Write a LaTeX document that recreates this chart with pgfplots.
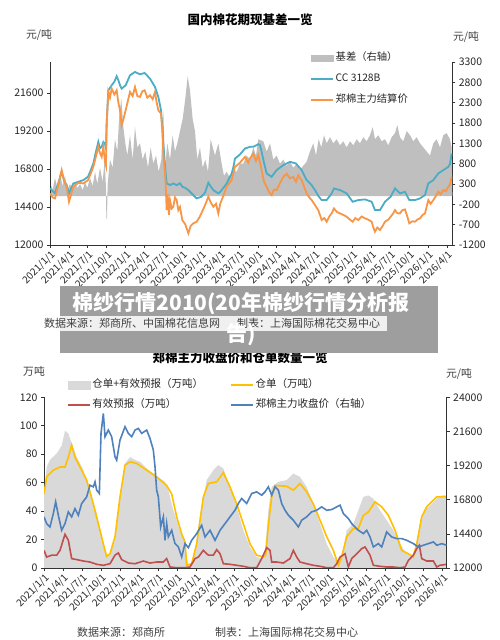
\documentclass[border=0pt]{standalone}
\usepackage{pgfplots}
\pgfplotsset{compat=1.18}
\usepackage{fontspec}
\setmainfont{Noto Sans CJK SC}
\definecolor{basis}{HTML}{BFBFBF}
\definecolor{cc}{HTML}{4BACC6}
\definecolor{zce}{HTML}{F79646}
\definecolor{warea}{HTML}{D9D9D9}
\definecolor{wyel}{HTML}{FFC000}
\definecolor{wred}{HTML}{C0504D}
\definecolor{wblue}{HTML}{4F81BD}
\definecolor{txt}{HTML}{404040}
\definecolor{banner}{HTML}{9E9E9E}
\newcommand{\fs}[1]{\fontsize{#1}{#1}\selectfont}
\pgfplotsset{
  base/.style={scale only axis, tick align=outside, major tick length=3pt, scaled ticks=false,
    axis line style={black!80, line width=0.6pt}, tick style={black!80, line width=0.6pt},
    ticklabel style={font=\fs{10.5}, text=black!85}},
  xlab/.style={x tick label style={rotate=45, anchor=north east, font=\fs{10}, inner sep=1pt}},
}
\begin{document}
\begin{tikzpicture}[x=1pt,y=1pt]
\path[use as bounding box] (0,0) rectangle (500,640);

% ===== TOP CHART: right axis (basis) =====
\begin{axis}[base, at={(50pt,395pt)}, anchor=south west, width=402.3pt, height=183pt,
  xmin=150, xmax=1357, ymin=-1200, ymax=3300,
  axis y line*=right, axis x line=none,
  ytick={-1200,-700,-200,300,800,1300,1800,2300,2800,3300},
  yticklabels={-1200,-700,-200,300,800,1300,1800,2300,2800,3300}]
\addplot[fill=basis, draw=none] coordinates {
(150,0)(152,300)(158,150)(165,450)(172,200)(180,550)(188,250)(195,500)(202,150)(210,300)
(218,150)(225,350)(232,200)(240,300)(248,150)(255,350)(262,200)(270,450)(278,250)(285,600)
(292,300)(300,700)(308,350)(314,900)(318,200)(319,-550)(321,-550)(323,300)(330,900)(338,700)
(345,1400)(352,1100)(358,2000)(364,2400)(370,1700)(376,1300)(382,1000)(390,1500)(398,900)
(405,1700)(412,1200)(420,1300)(428,900)(436,1100)(444,700)(452,1200)(460,800)(468,1000)
(476,600)(484,900)(490,2100)(495,700)(502,1300)(510,900)(518,1500)(525,1100)(532,1300)
(540,1600)(548,1900)(556,2400)(563,2950)(570,2600)(578,1900)(585,1600)(592,900)(600,1200)
(608,700)(616,900)(624,600)(632,1400)(645,1000)(655,1300)(665,800)(672,500)(680,600)
(690,450)(700,650)(710,600)(720,800)(730,800)(740,1000)(750,900)(760,1200)(768,1000)
(775,1400)(790,1350)(800,1100)(810,1300)(820,900)(830,1000)(840,800)(850,900)(860,750)
(870,850)(880,700)(890,800)(900,650)(910,750)(920,850)(930,1100)(940,1300)(948,1000)
(956,1400)(964,1200)(972,1500)(980,1300)(990,1450)(1000,1300)(1010,1400)(1020,1250)
(1030,1350)(1040,1200)(1050,1350)(1060,1250)(1070,1400)(1080,1300)(1090,1450)(1100,1350)
(1110,1500)(1118,1700)(1125,1400)(1135,1500)(1145,1350)(1155,1400)(1165,1250)(1175,1450)
(1185,1550)(1192,1750)(1200,1450)(1210,1350)(1220,1600)(1230,1500)(1240,1350)(1250,1450)
(1260,1300)(1270,1200)(1280,1100)(1290,1000)(1300,1300)(1310,1400)(1320,1200)(1330,1500)
(1340,1550)(1350,1400)(1355,1200)(1357,0)} -- cycle;
\end{axis}

% ===== TOP CHART: left axis (prices) =====
\begin{axis}[base, xlab, at={(50pt,395pt)}, anchor=south west, width=402.3pt, height=183pt,
  xmin=150, xmax=1357, ymin=12000, ymax=23550,
  axis y line*=left, axis x line*=bottom,
  xtick={150,206.7,263.4,320.1,376.8,433.5,490.2,546.9,603.6,660.3,717,773.7,830.4,887.1,943.8,1000.5,1057.2,1113.9,1170.6,1227.3,1284,1340.7},
  xticklabels={2021/1/1,2021/4/1,2021/7/1,2021/10/1,2022/1/1,2022/4/1,2022/7/1,2022/10/1,2023/1/1,2023/4/1,2023/7/1,2023/10/1,2024/1/1,2024/4/1,2024/7/1,2024/10/1,2025/1/1,2025/4/1,2025/7/1,2025/10/1,2026/1/1,2026/4/1},
  ytick={12000,14400,16800,19200,21600}, yticklabels={12000,14400,16800,19200,21600},
  legend style={at={(axis description cs:0.6468,1.06)}, anchor=north west, draw=none, fill=none,
    inner sep=0pt, row sep=8pt, font=\fs{10.3}, text=black!85,
    nodes={inner sep=1.5pt, text height=8pt, text depth=2pt}},
  legend cell align=left,
  legend image code/.code={\draw[#1] (0pt,0pt) -- (22pt,0pt);}]
\addlegendimage{legend image code/.code={\fill[basis] (0pt,-3pt) rectangle (22pt,3pt);}}
\addlegendentry{基差（右轴）}
\addplot[cc, line width=1.8pt] coordinates {
(150,15570)(158,15400)(165,15255)(175,15900)(185,16620)(193,16000)(200,15780)(207,15255)
(220,15885)(235,15990)(250,16095)(264,16305)(272,16700)(280,17145)(288,17900)(295,18510)
(300,18100)(305,18195)(310,18500)(315,18405)(318,18000)(320,19665)(325,21765)(335,22080)
(343,22300)(350,22647)(355,22400)(360,22080)(365,21870)(377,22080)(390,22710)(405,22920)
(420,22773)(434,22857)(450,22500)(465,21975)(475,21345)(483,20505)(487,19500)(490,18405)
(494,17300)(497,16515)(500,15885)(510,15780)(520,15885)(530,15780)(540,15900)(547,15675)
(556,15600)(565,15465)(580,15150)(590,14940)(604,15045)(615,15300)(625,15927)(632,15700)
(640,15465)(655,15255)(661,15360)(670,15600)(680,15885)(695,16515)(700,16900)(705,17460)
(718,17670)(735,18090)(750,18195)(760,18195)(775,18363)(780,18300)(785,17880)(792,17200)
(800,16515)(815,16305)(830,16725)(850,17040)(870,17250)(888,17145)(905,16725)(920,16095)
(935,15780)(945,15465)(955,15100)(965,14835)(980,14835)(995,15255)(1002,15570)(1020,15465)
(1040,15255)(1058,14730)(1075,14835)(1095,14877)(1115,14730)(1125,14205)(1140,14205)
(1155,14730)(1172,15045)(1185,15570)(1200,15255)(1215,15360)(1228,14835)(1245,14835)
(1260,14940)(1275,15150)(1285,15885)(1300,16095)(1315,16515)(1330,16725)(1345,16935)
(1350,17100)(1355,17775)};
\addlegendentry{CC 3128B}
\addplot[zce, line width=1.8pt] coordinates {
(150,15255)(158,15000)(165,14940)(175,15800)(185,16725)(193,16000)(200,15675)(207,14730)
(220,15675)(235,15927)(250,15885)(264,16095)(272,16500)(280,16935)(288,17600)(295,18195)
(300,17800)(305,17565)(310,18200)(315,17250)(318,17000)(320,19665)(325,21660)(330,21300)
(335,21870)(343,21500)(350,21765)(355,21000)(360,20505)(365,19560)(371,20000)(377,20505)
(390,21660)(398,21400)(405,21975)(412,21400)(420,21345)(427,21700)(434,21765)(442,21300)
(450,21450)(458,21200)(465,21660)(470,21000)(475,20505)(483,20295)(487,19200)(490,17775)
(494,16800)(497,15885)(500,14205)(503,15200)(507,13900)(510,14835)(515,14300)(520,14415)
(525,15000)(530,14835)(535,14200)(540,14400)(547,13575)(556,13300)(565,12735)(572,13200)
(580,13365)(590,13470)(597,13700)(604,13995)(615,14500)(625,15045)(632,14700)(640,14415)
(648,14600)(655,13995)(661,14625)(670,15100)(680,15675)(688,15900)(695,16095)(705,16935)
(718,17145)(735,17565)(745,17200)(750,17460)(760,17775)(768,17300)(775,17670)(785,16725)
(792,16000)(800,15675)(808,15300)(815,15150)(822,15500)(830,15465)(840,15900)(850,16305)
(860,16500)(870,16200)(880,16300)(888,15990)(895,16400)(905,16095)(912,15700)(920,15255)
(928,15000)(935,14835)(945,14520)(955,14200)(965,13575)(973,13700)(980,13470)(988,13800)
(995,13995)(1002,14310)(1010,14100)(1020,13995)(1030,13900)(1040,13785)(1050,13600)
(1058,13470)(1066,13700)(1075,13575)(1085,13800)(1095,13680)(1105,13600)(1115,13470)
(1120,13100)(1125,12840)(1132,13100)(1140,12945)(1148,13200)(1155,13470)(1165,13600)
(1172,13785)(1180,14000)(1185,14205)(1192,14000)(1200,13995)(1207,14200)(1215,14247)
(1222,13800)(1228,13365)(1237,13500)(1245,13470)(1252,13600)(1260,13680)(1268,13900)
(1275,13995)(1280,14400)(1285,14835)(1292,14600)(1300,14835)(1308,15100)(1315,15360)
(1322,15200)(1330,15465)(1338,15400)(1345,15675)(1350,15800)(1355,16305)};
\addlegendentry{郑棉主力结算价}
\end{axis}

% ===== BOTTOM CHART: left axis (warehouse receipts) =====
\begin{axis}[base, xlab, at={(44pt,72pt)}, anchor=south west, width=402.7pt, height=170.7pt,
  xmin=132, xmax=1340, ymin=0, ymax=120,
  axis y line*=left, axis x line*=bottom,
  xtick={132,188.95,245.9,302.85,359.8,416.75,473.7,530.65,587.6,644.55,701.5,758.45,815.4,872.35,929.3,986.25,1043.2,1100.15,1157.1,1214.05,1271,1327.95},
  xticklabels={2021/1/1,2021/4/1,2021/7/1,2021/10/1,2022/1/1,2022/4/1,2022/7/1,2022/10/1,2023/1/1,2023/4/1,2023/7/1,2023/10/1,2024/1/1,2024/4/1,2024/7/1,2024/10/1,2025/1/1,2025/4/1,2025/7/1,2025/10/1,2026/1/1,2026/4/1},
  ytick={0,20,40,60,80,100,120}, yticklabels={0,20,40,60,80,100,120}]
\addplot[fill=warea, draw=none] coordinates {
(132,0)(132,50)(140,71)(150,76)(170,80.5)(185,86)(195,96.5)(205,94.6)(215,87.6)(230,78)
(250,69)(270,55)(290,38)(305,22)(315,12.4)(320,9)(330,10)(345,19.5)(360,50)(375,73.5)
(390,78)(405,76)(420,74.7)(440,70)(460,66.4)(480,63)(495,60.6)(505,54.7)(520,40.6)
(540,26.5)(555,19.5)(560,7.7)(565,1.9)(575,3)(585,12.4)(600,36)(620,61.8)(640,68.8)
(655,72.3)(670,70)(690,57)(710,43)(730,26.5)(750,14.8)(770,7.7)(785,6.6)(795,12.4)
(805,40.6)(815,57)(835,60.6)(860,61.8)(880,66.4)(900,64)(920,57)(940,45)(960,31)(980,17)
(1000,7.7)(1015,3)(1025,7.7)(1040,26.5)(1060,31)(1075,40.6)(1090,50)(1105,51)(1120,48.8)
(1140,40.6)(1160,33.6)(1180,26.5)(1200,17)(1220,10)(1235,7.7)(1250,17)(1260,31)(1275,40.6)
(1295,45)(1310,48.8)(1325,51)(1340,51)(1340,0)} -- cycle;
\addplot[wyel, line width=1.6pt] coordinates {
(132,52)(140,64)(160,68.8)(180,71)(195,71)(205,78)(215,86.4)(225,78)(240,71)(260,61.8)
(280,45)(300,26.5)(315,12.4)(320,8.2)(330,10)(345,22)(360,50)(375,72.3)(390,74.7)
(410,73.5)(440,68.8)(470,64)(500,58)(515,52)(530,36)(545,24)(555,18.3)(560,1.9)(575,3)
(590,17)(610,50)(625,59.4)(650,60.6)(670,67)(690,57)(710,45)(730,31)(750,17)(770,9)
(790,7.7)(797,9)(805,30)(815,50)(825,58)(860,57.5)(880,54.7)(900,59.4)(920,53.5)(940,45)
(960,33.6)(980,22)(1000,12.4)(1015,1.9)(1025,7.7)(1040,22)(1060,27.7)(1075,27.7)(1090,37)
(1105,39.4)(1125,46.5)(1145,43)(1165,37)(1185,26.5)(1205,12.4)(1225,10)(1240,7.7)(1250,17)
(1265,36)(1280,43)(1295,46.5)(1310,50)(1325,50)(1340,50)};
\addplot[wred, line width=1.6pt] coordinates {
(132,12.4)(140,7.7)(155,9)(170,9)(180,12.4)(195,23.7)(205,19.5)(215,6.6)(230,5.9)(250,4.9)
(270,4.2)(290,2.6)(310,1.9)(330,3)(345,9)(355,10.6)(365,5.9)(385,3.5)(405,3)(430,4.9)
(450,3.5)(470,4.2)(490,4.2)(500,6.6)(510,0.7)(530,0.2)(555,0.2)(570,0.7)(585,6.6)(595,7.7)
(610,12.4)(625,9)(640,9)(650,12.9)(660,10)(670,3)(690,2.6)(710,1.9)(730,1.2)(750,0.2)
(770,0.2)(785,6.6)(800,14.3)(810,12.4)(815,4.2)(830,4.2)(850,3.5)(870,6.6)(880,12.4)
(890,7.7)(900,4.2)(920,3)(940,1.9)(960,1.2)(980,0.2)(1000,0.2)(1010,3)(1020,7.7)(1035,10)
(1045,0.7)(1055,6.6)(1070,10)(1085,13.6)(1095,14.8)(1110,9)(1120,1.9)(1140,1.2)(1160,0.7)
(1180,0.7)(1200,0.2)(1215,0.7)(1225,5.4)(1240,9)(1250,13.6)(1258,16)(1265,6.6)(1280,4.9)
(1300,4.9)(1310,0.7)(1320,1.9)(1340,2.6)};
\end{axis}

% ===== BOTTOM CHART: right axis (price) =====
\begin{axis}[base, at={(44pt,72pt)}, anchor=south west, width=402.7pt, height=170.7pt,
  xmin=132, xmax=1340, ymin=12000, ymax=24000,
  axis y line*=right, axis x line=none,
  ytick={12000,14400,16800,19200,21600,24000}, yticklabels={12000,14400,16800,19200,21600,24000},
  legend style={at={(axis description cs:0.057,1.113)}, anchor=north west, draw=none, fill=none,
    inner sep=0pt, row sep=7pt, font=\fs{10.5}, text=black!85,
    nodes={inner sep=1.5pt, text height=8pt, text depth=2pt},
    /tikz/column 2/.style={column sep=26pt}},
  legend columns=2, legend cell align=left,
  legend image code/.code={\draw[#1] (0pt,0pt) -- (22pt,0pt);}]
\addlegendimage{legend image code/.code={\fill[warea] (0pt,-4pt) rectangle (22pt,4pt);}}
\addlegendentry{仓单+有效预报（万吨）}
\addlegendimage{wyel, line width=1.6pt}
\addlegendentry{仓单（万吨）}
\addlegendimage{wred, line width=1.6pt}
\addlegendentry{有效预报（万吨）}
\addplot[wblue, line width=1.6pt] coordinates {
(132,15593)(140,15123)(150,14888)(160,15827)(167,16649)(175,15710)(185,14653)(195,15123)
(205,15945)(215,15593)(225,16179)(235,15710)(245,16532)(260,17001)(270,17823)(280,17706)
(285,18058)(290,17471)(298,17236)(303,21462)(310,22871)(315,21228)(325,21697)(335,21228)
(345,19819)(350,19584)(360,20993)(375,21932)(385,21462)(395,21228)(405,21697)(415,21815)
(425,21462)(440,21697)(450,21110)(460,20289)(465,19115)(470,17471)(475,17001)(482,14888)
(490,15593)(495,13949)(500,15123)(505,14184)(515,14653)(525,13714)(535,13479)(545,12775)
(555,13714)(565,13432)(575,13949)(590,14418)(605,15005)(615,14184)(630,14653)(645,13949)
(660,14653)(675,15123)(690,15593)(705,16062)(715,16532)(725,16884)(740,16532)(755,17236)
(770,17353)(785,17118)(795,17353)(805,17706)(815,17118)(825,17706)(835,17471)(845,16532)
(855,16062)(865,15710)(880,15358)(895,14888)(905,15358)(920,15593)(935,15945)(950,16062)
(965,16297)(980,16062)(995,16109)(1010,16297)(1020,16414)(1030,15827)(1045,15475)
(1055,15123)(1065,14888)(1075,14653)(1090,14418)(1100,14653)(1110,14184)(1120,13479)
(1135,13714)(1145,13479)(1160,14536)(1175,14184)(1190,14066)(1205,14066)(1220,13949)
(1240,13714)(1255,13479)(1270,13597)(1285,13714)(1300,13831)(1310,13597)(1325,13714)
(1340,13597)};
\addlegendentry{郑棉主力收盘价（右轴）}
\end{axis}

% ===== titles, units, footers =====
\node[font=\bfseries\fs{12.5}] at (250,620) {国内棉花期现基差一览};
\node[font=\fs{10.8}, text=txt] at (39,605) {元/吨};
\node[font=\fs{10.8}, text=txt] at (466,603) {元/吨};
\node[font=\bfseries\fs{12.5}] at (240,282) {郑棉主力收盘价和仓单数量一览};
\node[font=\fs{10.8}, text=txt] at (34,269) {万吨};
\node[font=\fs{10.8}, text=txt] at (459,266) {元/吨};
\node[font=\fs{11}, text=txt, anchor=west, inner sep=0pt] at (77,8) {数据来源：郑商所};
\node[font=\fs{11}, text=txt, anchor=west, inner sep=0pt] at (215,8) {制表：上海国际棉花交易中心};

% ===== banner overlay =====
\fill[banner] (60,287) rectangle (438,354);
\fill[white, opacity=0.85] (40,309) rectangle (387,324);
\node[font=\fs{11}, text=txt, anchor=west, inner sep=0pt] at (44,316.5) {数据来源：郑商所、中国棉花信息网};
\node[font=\fs{11}, text=txt, anchor=west, inner sep=0pt] at (237,316.5) {制表：上海国际棉花交易中心};
\node[align=center, text=white, font=\fontsize{21}{31}\selectfont\bfseries] at (241,321) {棉纱行情2010(20年棉纱行情分析报\\告)};
\end{tikzpicture}
\end{document}
